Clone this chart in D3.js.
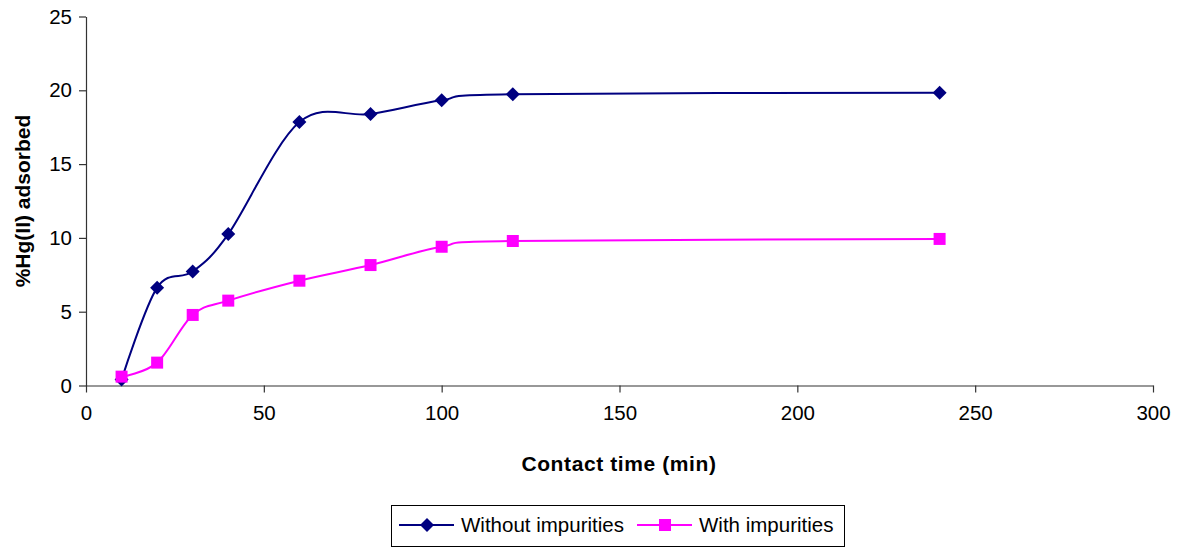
<!DOCTYPE html>
<html><head><meta charset="utf-8">
<script src="https://cdn.jsdelivr.net/npm/d3@7/dist/d3.min.js"></script>
<style>body{margin:0;background:#fff;} text{font-family:"Liberation Sans",Arial,sans-serif;}</style>
</head><body>
<svg id="c" width="1183" height="550"></svg>
<script>
const times = [10, 20, 30, 40, 60, 80, 100, 120, 240];
const withoutImpurities = [0.4, 6.63, 7.72, 10.26, 17.85, 18.39, 19.32, 19.73, 19.84];
const withImpurities = [0.6, 1.55, 4.78, 5.75, 7.1, 8.16, 9.4, 9.79, 9.93];
const xTicks = [0, 50, 100, 150, 200, 250, 300];
const yTicks = [0, 5, 10, 15, 20, 25];
const seriesNames = ["Without impurities", "With impurities"];

const svg = d3.select("#c");
const x = d3.scaleLinear().domain([0, 300]).range([86, 1153]);
const y = d3.scaleLinear().domain([0, 25]).range([385.5, 16.5]);

const xAxis = svg.append("g").attr("transform", "translate(0,385.5)")
  .call(d3.axisBottom(x).tickValues(xTicks).tickSize(7).tickSizeOuter(0).tickPadding(13));
const yAxis = svg.append("g").attr("transform", "translate(86,0)")
  .call(d3.axisLeft(y).tickValues(yTicks).tickSize(7).tickSizeOuter(0).tickPadding(7));
[xAxis, yAxis].forEach(a => {
  a.selectAll("path,line").attr("stroke", "#333").attr("stroke-width", 1.2);
  a.selectAll("text").attr("font-size", 20.5).attr("fill", "#000")
   .style("font-family", "'Liberation Sans', Arial, sans-serif");
});

svg.append("text").attr("x", 619).attr("y", 471).attr("text-anchor", "middle")
  .attr("font-size", 21).attr("font-weight", "bold").attr("letter-spacing", 0.6).text("Contact time (min)");
svg.append("text").attr("transform", "translate(30,201) rotate(-90)").attr("text-anchor", "middle")
  .attr("font-size", 21).attr("font-weight", "bold").text("%Hg(II) adsorbed");

const line = d3.line().x(d => x(d[0])).y(d => y(d[1])).curve(d3.curveCardinal.tension(0));
const series = [
  {name: seriesNames[0], vals: withoutImpurities, color: "#000080", shape: d3.symbolSquare, size: 98, rot: 45},
  {name: seriesNames[1], vals: withImpurities, color: "#FF00FF", shape: d3.symbolSquare, size: 144, rot: 0}
];
series.forEach(s => {
  const pts = times.map((t, i) => [t, s.vals[i]]);
  svg.append("path").attr("d", line(pts)).attr("fill", "none").attr("stroke", s.color).attr("stroke-width", 2);
});
series.forEach(s => {
  const pts = times.map((t, i) => [t, s.vals[i]]);
  svg.selectAll(null).data(pts).enter().append("path")
    .attr("d", d3.symbol().type(s.shape).size(s.size))
    .attr("transform", d => `translate(${x(d[0])},${y(d[1])}) rotate(${s.rot})`)
    .attr("fill", s.color);
});

// legend
const lg = svg.append("g");
lg.append("rect").attr("x", 391.5).attr("y", 505.5).attr("width", 453).attr("height", 41)
  .attr("fill", "#fff").attr("stroke", "#000").attr("stroke-width", 1);
const lx = [399, 637];
series.forEach((s, i) => {
  lg.append("line").attr("x1", lx[i]).attr("x2", lx[i] + 55).attr("y1", 525).attr("y2", 525)
    .attr("stroke", s.color).attr("stroke-width", 2);
  lg.append("path").attr("d", d3.symbol().type(s.shape).size(s.size))
    .attr("transform", `translate(${lx[i] + 28},525) rotate(${s.rot})`).attr("fill", s.color);
  lg.append("text").attr("x", lx[i] + 62).attr("y", 532).attr("font-size", 20.5).text(s.name);
});
</script>
</body></html>
